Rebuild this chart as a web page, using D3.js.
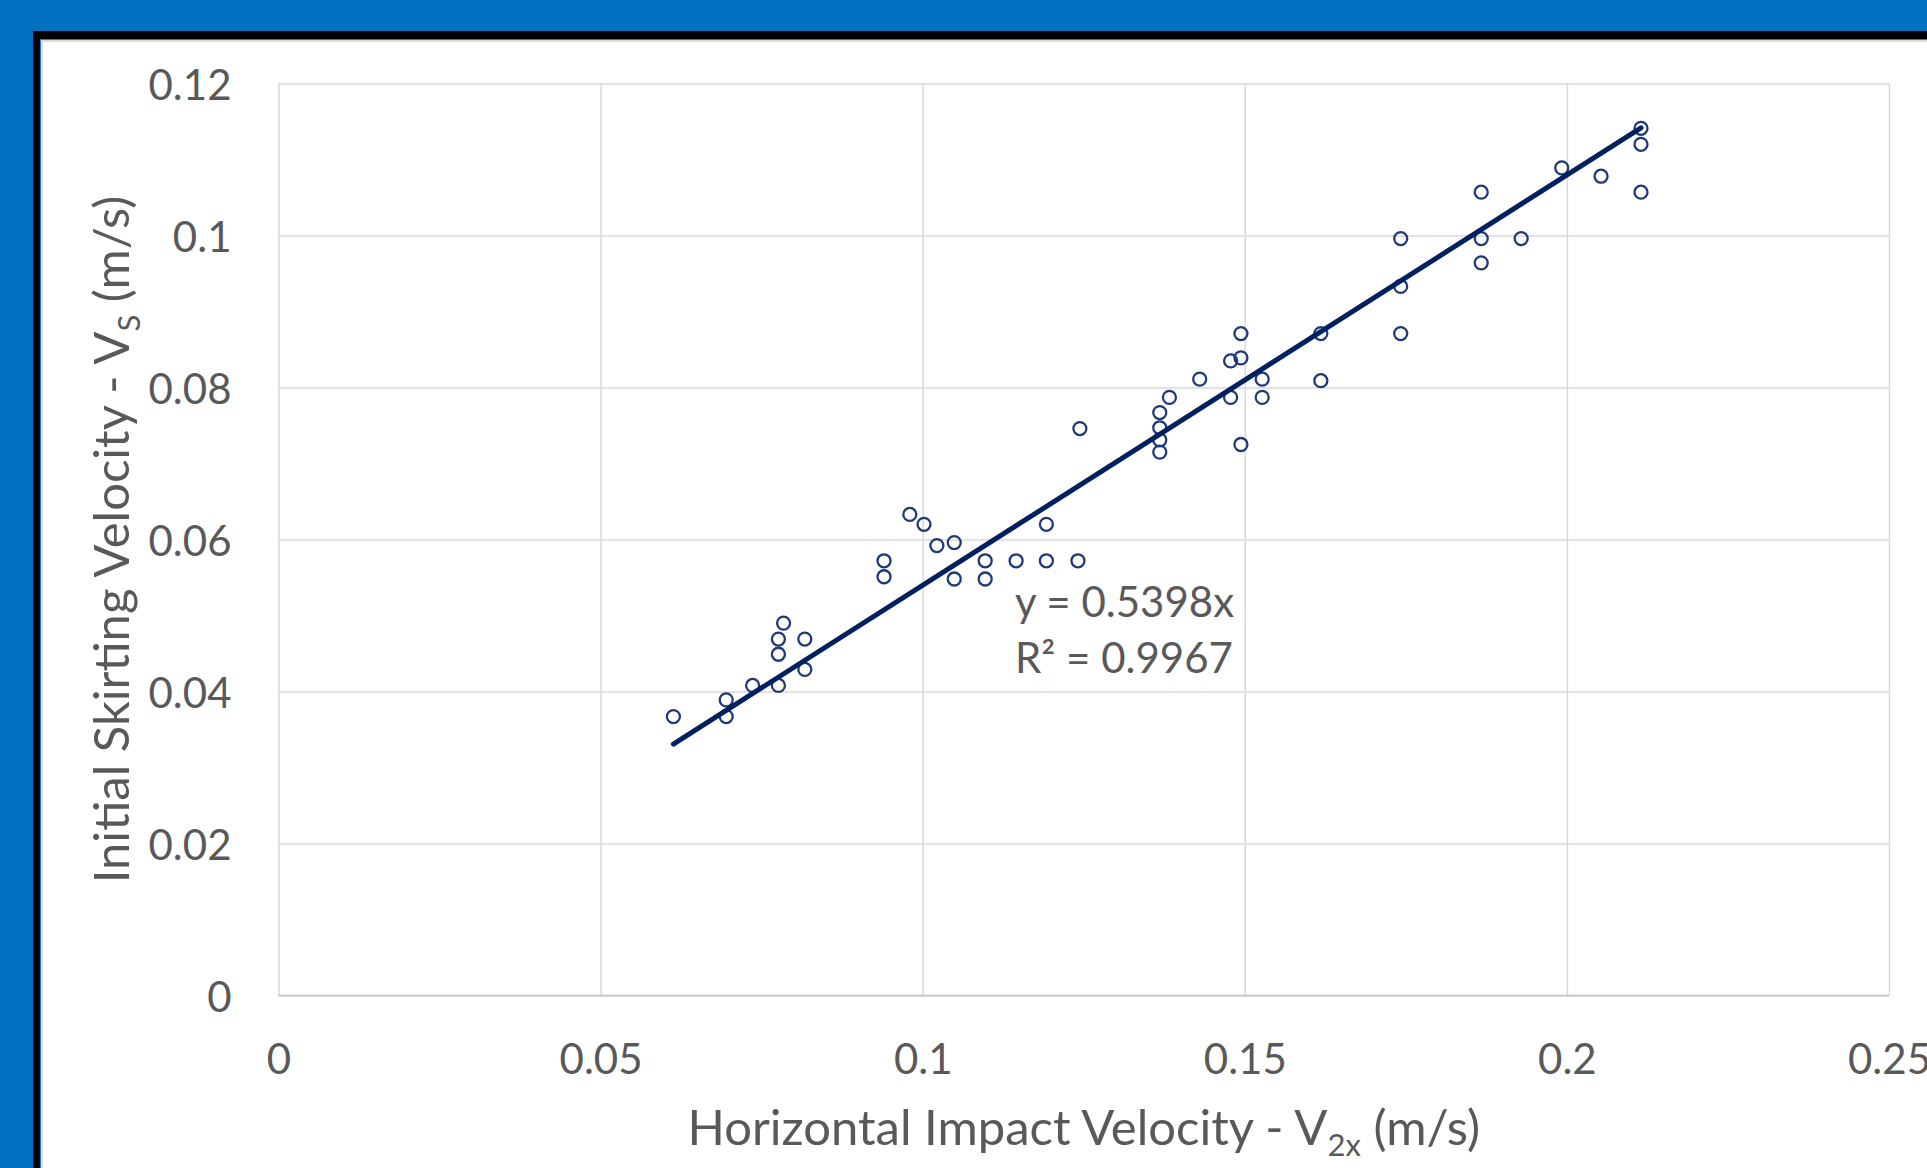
<!DOCTYPE html>
<html>
<head>
<meta charset="utf-8">
<script src="https://cdn.jsdelivr.net/npm/d3@7"></script>
<style>
  body { margin: 0; background: #0070C0; overflow: hidden; }
  svg { display: block; }
  text { font-family: Lato, "Noto Sans", sans-serif; fill: #595959; }
</style>
</head>
<body>
<svg id="chart"></svg>
<script>
// horizontal impact velocity V2x (m/s)
const xVals = [0.0613, 0.0695, 0.0695, 0.0736, 0.0776, 0.0776, 0.0776, 0.0784, 0.0817, 0.0817,
  0.0940, 0.0940, 0.0980, 0.1002, 0.1022, 0.1049, 0.1049, 0.1097, 0.1097, 0.1145,
  0.1192, 0.1192, 0.1241, 0.1244, 0.1368, 0.1368, 0.1368, 0.1368, 0.1383, 0.1430,
  0.1478, 0.1494, 0.1494, 0.1478, 0.1527, 0.1527, 0.1494, 0.1618, 0.1618, 0.1742,
  0.1742, 0.1742, 0.1867, 0.1867, 0.1867, 0.1929, 0.1992, 0.2053, 0.2115, 0.2115, 0.2115]
// initial skirting velocity Vs (m/s)
const yVals = [0.0367, 0.0389, 0.0367, 0.0408, 0.0408, 0.0449, 0.0469, 0.0490, 0.0469, 0.0429,
  0.0572, 0.0551, 0.0633, 0.0620, 0.0592, 0.0596, 0.0548, 0.0572, 0.0548, 0.0572,
  0.0572, 0.0620, 0.0572, 0.0746, 0.0767, 0.0747, 0.0731, 0.0715, 0.0787, 0.0811,
  0.0835, 0.0839, 0.0871, 0.0787, 0.0811, 0.0787, 0.0725, 0.0871, 0.0809, 0.0996,
  0.0933, 0.0871, 0.1057, 0.0996, 0.0964, 0.0996, 0.1089, 0.1078, 0.1141, 0.1120, 0.1057]

const slope = 0.5398
const rSquared = "0.9967"

const xTicks = [0, 0.05, 0.1, 0.15, 0.2, 0.25]
const xTickLabels = ["0", "0.05", "0.1", "0.15", "0.2", "0.25"]
const yTicks = [0, 0.02, 0.04, 0.06, 0.08, 0.1, 0.12]
const yTickLabels = ["0", "0.02", "0.04", "0.06", "0.08", "0.1", "0.12"]

const W = 1927, H = 1168
margin = ({top: 83.5, right: 38, bottom: 172.5, left: 278.5})
var width = W - margin.left - margin.right
var height = H - margin.top - margin.bottom

var svg = d3.select("#chart").attr("width", W).attr("height", H)

// frame: black border, thin blue + grey lines, white panel running off the page
svg.append("rect").attr("x", 33).attr("y", 31).attr("width", W).attr("height", H).attr("fill", "#000")
svg.append("rect").attr("x", 40).attr("y", 39).attr("width", W).attr("height", H).attr("fill", "#2a7fc4")
svg.append("rect").attr("x", 41).attr("y", 40).attr("width", W).attr("height", H).attr("fill", "#dcdcdc")
svg.append("rect").attr("x", 43).attr("y", 42).attr("width", W).attr("height", H).attr("fill", "#fff")

x = d3.scaleLinear().domain([0, 0.25]).range([margin.left, margin.left + width])
y = d3.scaleLinear().domain([0, 0.12]).range([margin.top + height, margin.top])

// gridlines
svg.append("g")
  .attr("transform", `translate(0,${margin.top + height})`)
  .call(d3.axisBottom(x).tickValues(xTicks).tickSize(-height).tickFormat(""))
  .call(g => g.select(".domain").remove())
  .call(g => g.selectAll("line").attr("stroke", "#d9d9d9").attr("stroke-width", 1.5))

svg.append("g")
  .attr("transform", `translate(${margin.left},0)`)
  .call(d3.axisLeft(y).tickValues(yTicks).tickSize(-width).tickFormat(""))
  .call(g => g.select(".domain").remove())
  .call(g => g.selectAll("line").attr("stroke", "#d9d9d9").attr("stroke-width", 1.5))

// bottom axis line
svg.append("line")
  .attr("x1", x(0)).attr("x2", x(0.25))
  .attr("y1", y(0)).attr("y2", y(0))
  .attr("stroke", "#c4c4c4").attr("stroke-width", 1.5)

// tick labels
svg.append("g")
  .attr("transform", `translate(0,${margin.top + height})`)
  .call(d3.axisBottom(x).tickValues(xTicks).tickSize(0).tickPadding(0).tickFormat((d, i) => xTickLabels[i]))
  .call(g => g.select(".domain").remove())
  .call(g => g.selectAll("text").attr("y", 62).attr("dy", null).attr("dominant-baseline", "central")
    .style("font-size", "42px").style("fill", "#595959").style("font-family", "Lato"))

svg.append("g")
  .attr("transform", `translate(${margin.left},0)`)
  .call(d3.axisLeft(y).tickValues(yTicks).tickSize(0).tickPadding(0).tickFormat((d, i) => yTickLabels[i]))
  .call(g => g.select(".domain").remove())
  .call(g => g.selectAll("text").attr("x", -47).attr("dy", null).attr("dominant-baseline", "central")
    .style("font-size", "42px").style("fill", "#595959").style("font-family", "Lato"))

// points
var points = xVals.map((v, i) => ({x: v, y: yVals[i]}))
svg.append("g")
  .selectAll("circle")
  .data(points)
  .join("circle")
  .attr("cx", d => x(d.x))
  .attr("cy", d => y(d.y))
  .attr("r", 6.5)
  .attr("fill", "none")
  .attr("stroke", "#1f3a78")
  .attr("stroke-width", 2.3)

// trendline y = slope * x
var xMin = d3.min(xVals), xMax = d3.max(xVals)
svg.append("line")
  .attr("x1", x(xMin)).attr("y1", y(slope * xMin))
  .attr("x2", x(xMax)).attr("y2", y(slope * xMax))
  .attr("stroke", "#002060").attr("stroke-width", 5).attr("stroke-linecap", "round")

// equation label
var eq = svg.append("text").style("font-size", "42px")
eq.append("tspan").attr("x", 1015).attr("y", 617).text(`y = ${slope}x`)
eq.append("tspan").attr("x", 1015).attr("y", 673).text(`R² = ${rSquared}`)

// axis titles
var xt = svg.append("text")
  .attr("x", margin.left + width / 2).attr("y", 1145)
  .attr("text-anchor", "middle")
  .style("font-size", "49px")
xt.append("tspan").text("Horizontal Impact Velocity - V")
xt.append("tspan").attr("dy", 11).style("font-size", "31px").text("2x")
xt.append("tspan").attr("dy", -11).text(" (m/s)")

var yt = svg.append("text")
  .attr("transform", `translate(129,${margin.top + height / 2}) rotate(-90)`)
  .attr("text-anchor", "middle")
  .style("font-size", "49px")
yt.append("tspan").text("Initial Skirting Velocity - V")
yt.append("tspan").attr("dy", 11).style("font-size", "31px").text("S")
yt.append("tspan").attr("dy", -11).text(" (m/s)")
</script>
</body>
</html>
